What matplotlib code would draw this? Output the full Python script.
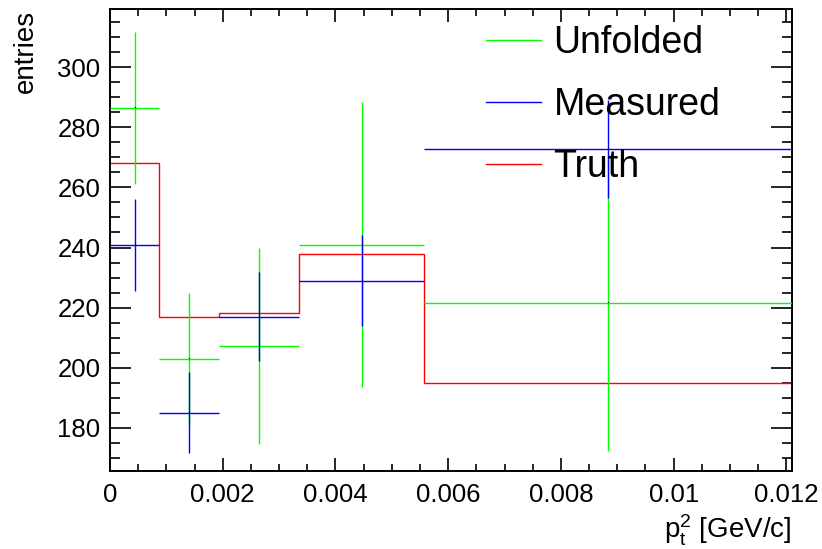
import matplotlib
matplotlib.use("Agg")
import matplotlib.pyplot as plt
from matplotlib.lines import Line2D
import numpy as np

plt.rcParams['font.family'] = ['Liberation Sans', 'DejaVu Sans']
plt.rcParams['mathtext.fontset'] = 'custom'
plt.rcParams['mathtext.rm'] = 'Liberation Sans'
plt.rcParams['mathtext.it'] = 'Liberation Sans'

# binning in p_t^2 [GeV/c]
bin_edges = [0.0, 0.000875, 0.00194, 0.00336, 0.00557, 0.0121]

unfolded = [286.4, 202.8, 207.2, 241.0, 221.5]
unfolded_err = [25.4, 22.0, 32.5, 47.3, 49.2]

measured = [240.9, 185.0, 217.0, 229.0, 272.8]
measured_err = [15.3, 13.5, 14.7, 15.1, 16.2]

truth = [268.0, 217.0, 218.1, 238.0, 195.0]

series_labels = ["Unfolded", "Measured", "Truth"]

edges = np.array(bin_edges)
centers = 0.5 * (edges[:-1] + edges[1:])
half_w = 0.5 * (edges[1:] - edges[:-1])

fig = plt.figure(figsize=(8.22, 5.49), dpi=100)
ax = fig.add_axes([110 / 822, 78 / 549, 682 / 822, 462 / 549])

lw = 1.0
ax.stairs(truth, edges, baseline=None, color='#ff0000', lw=lw, zorder=2)
ax.errorbar(centers, unfolded, xerr=half_w, yerr=unfolded_err, fmt='none',
            ecolor='#00ff00', elinewidth=lw, capsize=0, zorder=3)
ax.errorbar(centers, measured, xerr=half_w, yerr=measured_err, fmt='none',
            ecolor='#0000ff', elinewidth=lw, capsize=0, zorder=4)
ax.plot(centers, unfolded, ',', color='black', zorder=5)
ax.plot(centers, measured, ',', color='black', zorder=5)

ax.set_xlim(edges[0], edges[-1])
ax.set_ylim(165.6, 319.4)

ax.set_xticks([0, 0.002, 0.004, 0.006, 0.008, 0.01, 0.012])
ax.set_xticklabels(["0", "0.002", "0.004", "0.006", "0.008", "0.01", "0.012"])
ax.set_xticks(np.arange(0, 0.0121, 0.0005), minor=True)
ax.set_yticks([180, 200, 220, 240, 260, 280, 300])
ax.set_yticks(np.arange(170, 320, 5), minor=True)

for s in ax.spines.values():
    s.set_linewidth(1.4)

ax.tick_params(axis='both', which='both', direction='in', top=True, right=True, width=1.2)
ax.tick_params(axis='x', which='major', length=9.5, pad=8.5, labelsize=18.5)
ax.tick_params(axis='x', which='minor', length=4.8)
ax.tick_params(axis='y', which='major', length=14.8, pad=7, labelsize=18.5)
ax.tick_params(axis='y', which='minor', length=7.0)

fig.text(13 / 822, 1 - 10 / 549, "entries", rotation=90, ha='left', va='top', fontsize=20)
fig.text(792 / 822, 1 - 538 / 549, r"$\mathrm{p}_{\mathrm{t}}^{2}$ [GeV/c]",
         ha='right', va='baseline', fontsize=20)

handles = [Line2D([], [], color='#00ff00', lw=lw),
           Line2D([], [], color='#0000ff', lw=lw),
           Line2D([], [], color='#ff0000', lw=lw)]
leg = ax.legend(handles, series_labels, loc='upper left',
                bbox_to_anchor=(486 / 822, 1 - 25 / 549), bbox_transform=fig.transFigure,
                frameon=False, fontsize=27, handlelength=1.47, handletextpad=0.33,
                labelspacing=0.69, borderpad=0, borderaxespad=0)
leg.set_zorder(10)

fig.savefig("out.png", dpi=100)
